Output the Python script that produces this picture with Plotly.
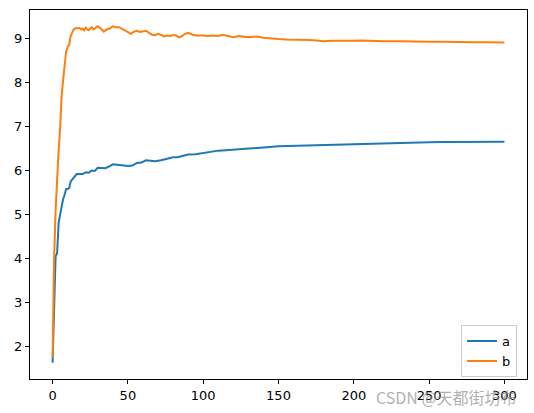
import plotly.graph_objects as go

a_x = [0,1,2,3,4,5,6,7,8,9,10,11,12,13,14,15,16,18,20,22,24,26,28,30,32,35,38,40,43,46,50,53,56,59,62,65,68,72,75,78,80,83,86,90,95,100,105,110,115,120,125,130,140,150,160,170,180,190,200,210,220,230,240,250,260,270,280,290,300]
a_y = [1.64,2.8,4.05,4.12,4.8,5.0,5.2,5.35,5.45,5.58,5.58,5.6,5.75,5.8,5.85,5.9,5.92,5.92,5.92,5.96,5.95,6.0,5.99,6.06,6.05,6.05,6.1,6.14,6.13,6.12,6.1,6.11,6.17,6.18,6.23,6.22,6.21,6.23,6.26,6.28,6.3,6.3,6.32,6.36,6.37,6.4,6.42,6.45,6.46,6.47,6.49,6.5,6.52,6.55,6.56,6.57,6.58,6.59,6.6,6.61,6.62,6.63,6.64,6.64,6.645,6.65,6.65,6.65,6.65]

b_x = [0,1,2,3,4,5,6,7,8,9,10,11,12,13,14,15,16,17,18,19,20,21,22,23,24,25,26,27,28,30,32,34,36,38,40,42,44,46,48,50,52,54,56,58,60,62,64,66,68,70,72,74,76,78,80,82,84,86,88,90,93,96,100,103,106,110,113,116,120,124,128,132,136,140,145,150,155,160,165,170,175,180,185,190,195,200,205,210,220,230,240,250,260,270,280,290,300]
b_y = [1.75,4.0,5.1,5.9,6.45,6.95,7.7,8.05,8.35,8.7,8.8,8.85,9.05,9.12,9.2,9.22,9.23,9.22,9.23,9.2,9.22,9.18,9.24,9.2,9.18,9.22,9.25,9.2,9.22,9.27,9.22,9.15,9.2,9.22,9.27,9.25,9.25,9.22,9.18,9.14,9.1,9.15,9.17,9.14,9.16,9.17,9.12,9.08,9.07,9.1,9.08,9.04,9.06,9.05,9.07,9.06,9.02,9.05,9.1,9.12,9.08,9.06,9.06,9.05,9.06,9.05,9.08,9.05,9.02,9.05,9.03,9.03,9.04,9.01,8.99,8.98,8.97,8.97,8.97,8.96,8.95,8.93,8.94,8.94,8.93,8.94,8.95,8.94,8.93,8.93,8.92,8.92,8.92,8.91,8.91,8.91,8.9]

x_ticks = [0, 50, 100, 150, 200, 250, 300]
y_ticks = [2, 3, 4, 5, 6, 7, 8, 9]
watermark = "CSDN @天都街坊布"

fig = go.Figure()
fig.add_trace(go.Scatter(x=a_x, y=a_y, mode="lines", name="a",
                         line=dict(color="#1f77b4", width=2)))
fig.add_trace(go.Scatter(x=b_x, y=b_y, mode="lines", name="b",
                         line=dict(color="#ff7f0e", width=2)))

axis_common = dict(showgrid=False, zeroline=False, showline=True, mirror=True,
                   linecolor="black", linewidth=1, ticks="outside", ticklen=4,
                   tickwidth=1, tickcolor="black", automargin=False,
                   tickfont=dict(family="DejaVu Sans", size=13, color="black"))

fig.update_layout(
    width=534, height=413,
    margin=dict(l=30, r=7, t=10, b=34, autoexpand=False),
    paper_bgcolor="white", plot_bgcolor="white",
    xaxis=dict(range=[-15, 315], tickvals=x_ticks, **axis_common),
    yaxis=dict(range=[1.27, 9.64], tickvals=y_ticks, **axis_common),
    legend=dict(x=0.98, y=0.005, xanchor="right", yanchor="bottom",
                bordercolor="#cccccc", borderwidth=1, bgcolor="rgba(255,255,255,0.8)",
                font=dict(family="DejaVu Sans", size=13, color="black"),
                tracegroupgap=0, itemwidth=30),
    showlegend=True,
)
fig.add_annotation(text=watermark, xref="paper", yref="paper",
                   x=0.984, y=-0.049, xanchor="right", yanchor="middle",
                   showarrow=False,
                   font=dict(family="Noto Sans CJK SC", size=16, color="rgba(140,140,140,0.7)"))

fig.write_html("out.html", config={"displayModeBar": False},
               post_script="document.body.style.margin='0';document.body.style.overflow='hidden';")
